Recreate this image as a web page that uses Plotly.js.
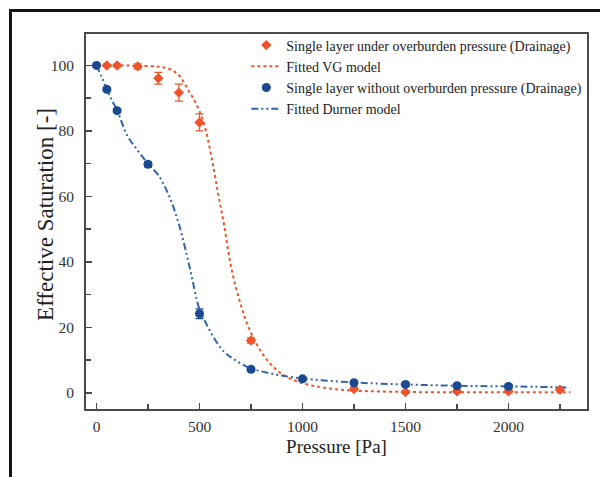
<!DOCTYPE html>
<html><head><meta charset="utf-8">
<script src="https://cdn.plot.ly/plotly-3.0.1.min.js"></script>
<style>
html,body{margin:0;padding:0;background:#fff;width:600px;height:477px;overflow:hidden;}
#frame{position:absolute;left:9px;top:9px;width:620px;height:500px;border-top:3px solid #151515;border-left:3px solid #151515;pointer-events:none;}
#chart{position:absolute;left:0;top:0;width:600px;height:477px;}
</style></head>
<body>
<div id="chart"></div>
<div id="frame"></div>
<script>
// Measured data: under overburden pressure (red)
var redX = [50, 100, 200, 300, 400, 500, 750, 1250, 1500, 1750, 2000, 2250];
var redY = [100, 100, 99.7, 96.1, 91.7, 82.6, 16, 1.2, 0.3, 0.5, 0.5, 1.0];
var redErr = [0.4, 0.4, 0.8, 1.8, 2.6, 2.6, 0.8, 0.6, 0.4, 0.4, 0.4, 0.4];
// Measured data: without overburden pressure (blue)
var blueX = [0, 50, 100, 250, 500, 750, 1000, 1250, 1500, 1750, 2000];
var blueY = [100, 92.7, 86.2, 69.8, 24.2, 7.2, 4.3, 3.1, 2.6, 2.2, 2.0];
var blueErr = [0.4, 0.6, 0.6, 0.8, 1.5, 0.6, 0.6, 0.5, 0.5, 0.5, 0.5];
// Fitted VG model curve
var vgX = [0, 100, 200, 300, 350, 400, 450, 490, 525, 560, 590, 620, 655, 700, 745, 800, 850, 900, 970, 1050, 1150, 1250, 1500, 1750, 2000, 2300];
var vgY = [100, 100, 99.9, 99.6, 99.0, 97.0, 92.0, 87.5, 81.5, 71.5, 61, 51, 38, 27, 19, 12.5, 8.5, 5.8, 3.6, 2.2, 1.2, 0.7, 0.3, 0.2, 0.2, 0.2];
// Fitted Durner model curve
var durX = [0, 25, 50, 75, 100, 150, 200, 250, 300, 350, 400, 450, 500, 530, 570, 620, 650, 700, 750, 800, 890, 1000, 1250, 1500, 1750, 2000, 2280];
var durY = [100, 96.5, 92.7, 89.3, 86.3, 78.5, 74, 70, 66.5, 60.5, 51.5, 39, 25.5, 21.5, 16.8, 12.5, 11, 9, 7.5, 6.6, 5.4, 4.4, 3.2, 2.6, 2.2, 2.0, 1.7];

var legendNames = [
  'Single layer under overburden pressure (Drainage)',
  'Fitted VG model',
  'Single layer without overburden pressure (Drainage)',
  'Fitted Durner model'
];
var xTitle = 'Pressure [Pa]';
var yTitle = 'Effective Saturation [-]';

var red = '#f0532a', blue = '#1c4a91', blueLine = '#3463ad';
var serif = 'Liberation Serif, Times New Roman, serif';

var traces = [
  {x: redX, y: redY, name: legendNames[0], type: 'scatter', mode: 'markers',
   marker: {symbol: 'diamond', size: 8, color: red},
   error_y: {type: 'data', array: redErr, visible: true, color: red, thickness: 1.2, width: 4}},
  {x: vgX, y: vgY, name: legendNames[1], type: 'scatter', mode: 'lines', line: {shape: 'spline', color: red, width: 2, dash: 'dot'}},
  {x: blueX, y: blueY, name: legendNames[2], type: 'scatter', mode: 'markers',
   marker: {symbol: 'circle', size: 9, color: blue},
   error_y: {type: 'data', array: blueErr, visible: true, color: blue, thickness: 1.2, width: 4}},
  {x: durX, y: durY, name: legendNames[3], type: 'scatter', mode: 'lines', line: {shape: 'spline', color: blueLine, width: 2, dash: '7px,3px,2px,3px,2px,3px'}}
];
// draw lines under markers
traces = [traces[1], traces[3], traces[0], traces[2]];

var axisCommon = {
  showline: true, linecolor: '#4a4a4a', linewidth: 2, mirror: true,
  ticks: 'inside', ticklen: 6, tickwidth: 1.5, tickcolor: '#4a4a4a',
  showgrid: false, zeroline: false,
  tickfont: {family: serif, size: 15.5, color: '#333'}
};

var layout = {
  width: 600, height: 477,
  margin: {l: 86, r: 13, t: 34, b: 68},
  paper_bgcolor: 'rgba(0,0,0,0)', plot_bgcolor: '#fff',
  showlegend: true,
  legend: {x: 0.32, y: 1.012, xanchor: 'left', yanchor: 'top', bgcolor: 'rgba(0,0,0,0)',
           font: {family: serif, size: 14, color: '#222'}, traceorder: 'normal', tracegroupgap: 0},
  xaxis: Object.assign({}, axisCommon, {
    range: [-51, 2381], tickvals: [0, 500, 1000, 1500, 2000],
    minor: {tickvals: [250, 750, 1250, 1750, 2250], ticks: 'inside', ticklen: 5, tickwidth: 1.5, tickcolor: '#4a4a4a'},
    ticklabelstandoff: 2,
    title: {text: xTitle, font: {family: serif, size: 19, color: '#222'}, standoff: 6}
  }),
  yaxis: Object.assign({}, axisCommon, {
    range: [-4.9, 109.6], tickvals: [0, 20, 40, 60, 80, 100],
    minor: {tickvals: [10, 30, 50, 70, 90], ticks: 'inside', ticklen: 5, tickwidth: 1.5, tickcolor: '#4a4a4a'},
    ticklabelstandoff: 7
  }),
  annotations: [{
    text: yTitle, xref: 'paper', yref: 'paper', x: -0.082, y: 0.52,
    xanchor: 'center', yanchor: 'middle', textangle: -90, showarrow: false,
    font: {family: serif, size: 23, color: '#222'}
  }]
};

var legendOrder = {};
legendNames.forEach(function(n, i){ legendOrder[n] = i; });
traces.forEach(function(t){ t.legendrank = legendOrder[t.name] + 1; });

Plotly.newPlot('chart', traces, layout, {displayModeBar: false, staticPlot: true});
</script>
</body></html>
